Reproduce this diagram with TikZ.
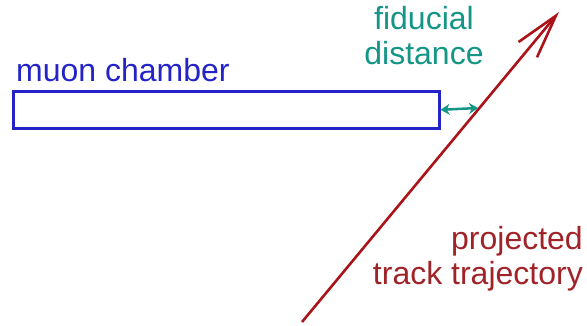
\documentclass[tikz,border=0pt]{standalone}
\usepackage{fontspec}
\setmainfont{Liberation Sans}
\usetikzlibrary{arrows.meta}
\definecolor{chamberblue}{RGB}{35,35,200}
\definecolor{fidteal}{RGB}{20,150,135}
\definecolor{trackred}{RGB}{170,20,25}
\definecolor{tracktext}{RGB}{160,35,40}
\tikzset{
  lbl/.style={inner sep=0pt, font=\fontsize{32}{35}\selectfont},
}
\begin{document}
\begin{tikzpicture}[x=1pt,y=-1pt]
\useasboundingbox (0,0) rectangle (587,326);
\node[draw=chamberblue, line width=2.6pt, minimum width=426pt, minimum height=37pt, inner sep=0pt, anchor=north west] (chamber) at (12,90) {};
\node[lbl, text=chamberblue, anchor=base west] (chlabel) at (16,82) {muon chamber};
\coordinate (trackstart) at (302,322);
\coordinate (trackend) at (559,12);
\draw[trackred, line width=2.6pt, -{Straight Barb[length=44pt,width=24pt,line width=2.6pt]}] (trackstart) -- (trackend);
\coordinate (fidend) at (478,108);
\draw[fidteal, line width=2.5pt, {Stealth[length=9pt,width=11pt]}-{Stealth[length=9pt,width=11pt]}] (chamber.east) -- (fidend);
\node[lbl, text=fidteal, align=center, anchor=base] (fidlabel) at (424,65) {fiducial\\distance};
\node[lbl, text=tracktext, align=right, anchor=base east] (tracklabel) at (583,284) {projected\\track trajectory};
\end{tikzpicture}
\end{document}
